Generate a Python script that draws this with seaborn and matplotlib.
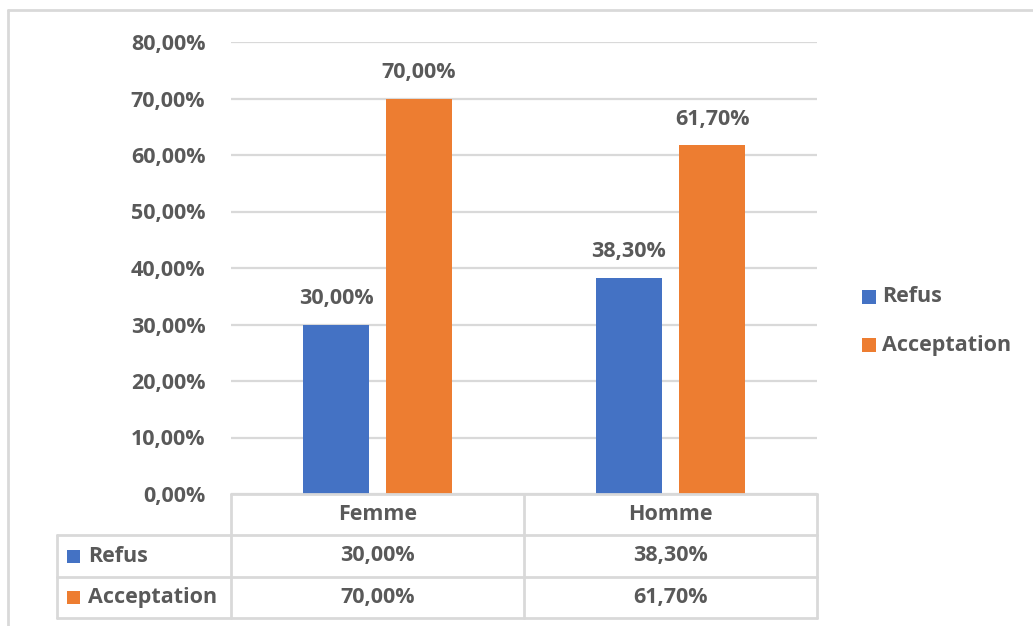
import matplotlib
matplotlib.use("Agg")
import matplotlib.pyplot as plt
from matplotlib.patches import Rectangle
from matplotlib.lines import Line2D
import pandas as pd
import seaborn as sns

# Data
categories = ["Femme", "Homme"]
series = ["Refus", "Acceptation"]
refus = [30.0, 38.3]
acceptation = [70.0, 61.7]
y_ticks = [0, 10, 20, 30, 40, 50, 60, 70, 80]

colors = {"Refus": "#4472C4", "Acceptation": "#ED7D31"}
text_col = "#595959"
grid_col = "#D9D9D9"
FS = 15.5

def pct(v):
    return f"{v:.2f}".replace(".", ",") + "%"

df = pd.DataFrame({
    "categorie": categories * 2,
    "serie": [series[0]] * len(categories) + [series[1]] * len(categories),
    "valeur": refus + acceptation,
})

sns.set_theme(style="white")
plt.rcParams["font.family"] = ["Open Sans", "DejaVu Sans"]
plt.rcParams["font.weight"] = "bold"

W, H = 1033, 626
fig = plt.figure(figsize=(W / 100, H / 100), dpi=100)

def fx(px):
    return px / W

def fy(py):
    return 1 - py / H

# plot area
x0, x1, y_top, y_bot = 231, 817, 42, 494
ax = fig.add_axes([fx(x0), fy(y_bot), fx(x1) - fx(x0), fy(y_top) - fy(y_bot)])

sns.barplot(data=df, x="categorie", y="valeur", hue="serie", order=categories,
            hue_order=series, palette=colors, width=0.567, gap=0.205,
            saturation=1, linewidth=0, legend=False, ax=ax)

ax.set_ylim(0, 80)
ax.set_xlim(-0.5, len(categories) - 0.5)
ax.set_yticks(y_ticks)
ax.set_yticklabels([pct(v) for v in y_ticks], color=text_col, fontsize=FS,
                   fontweight="bold")
ax.tick_params(axis="y", length=0, pad=18.5)
ax.set_xticks([])
ax.set_xlabel("")
ax.set_ylabel("")
for s in ax.spines.values():
    s.set_visible(False)
ax.yaxis.grid(True, color=grid_col, linewidth=1.6)
ax.set_axisbelow(True)

# value labels above bars
for container, vals in zip(ax.containers, [refus, acceptation]):
    for bar, v in zip(container, vals):
        ax.annotate(pct(v), (bar.get_x() + bar.get_width() / 2, bar.get_height()),
                    xytext=(0, 18.5), textcoords="offset points", ha="center",
                    va="center", fontsize=FS, fontweight="bold", color=text_col)

# data table below the axis
lw = 2
tl = 57
row_y = [494, 535, 577, 618]
col_x = [x0, 524, x1]

def hline(xa, xb, py):
    fig.add_artist(Line2D([fx(xa), fx(xb)], [fy(py), fy(py)], color=grid_col,
                          linewidth=lw, transform=fig.transFigure))

def vline(px, ya, yb):
    fig.add_artist(Line2D([fx(px), fx(px)], [fy(ya), fy(yb)], color=grid_col,
                          linewidth=lw, transform=fig.transFigure))

hline(x0, x1, row_y[0])
hline(tl, x1, row_y[1])
hline(tl, x1, row_y[2])
hline(tl, x1, row_y[3])
vline(tl, row_y[1], row_y[3])
for cx in col_x:
    vline(cx, row_y[0], row_y[3])

for i, cat in enumerate(categories):
    cx = (col_x[i] + col_x[i + 1]) / 2
    fig.text(fx(cx), fy((row_y[0] + row_y[1]) / 2), cat, ha="center", va="center",
             fontsize=FS, fontweight="bold", color=text_col)
    for r, vals in enumerate([refus, acceptation]):
        fig.text(fx(cx), fy((row_y[r + 1] + row_y[r + 2]) / 2), pct(vals[i]),
                 ha="center", va="center", fontsize=FS, fontweight="bold",
                 color=text_col)

sq = 13
for r, name in enumerate(series):
    cy = (row_y[r + 1] + row_y[r + 2]) / 2
    fig.add_artist(Rectangle((fx(67), fy(cy + sq / 2)), sq / W, sq / H,
                             facecolor=colors[name], edgecolor="none",
                             transform=fig.transFigure))
    fig.text(fx(88), fy(cy), name, ha="left", va="center", fontsize=FS,
             fontweight="bold", color=text_col)

# legend on the right
for name, ly in zip(series, [297, 345]):
    fig.add_artist(Rectangle((fx(862), fy(ly + 7)), 14 / W, 14 / H,
                             facecolor=colors[name], edgecolor="none",
                             transform=fig.transFigure))
    fig.text(fx(882), fy(ly), name, ha="left", va="center", fontsize=FS,
             fontweight="bold", color=text_col)

# chart frame
fig.add_artist(Line2D([fx(8), fx(1033)], [fy(10), fy(10)], color=grid_col,
                      linewidth=2, transform=fig.transFigure))
fig.add_artist(Line2D([fx(8), fx(8)], [fy(10), fy(626)], color=grid_col,
                      linewidth=2, transform=fig.transFigure))

fig.savefig("out.png", dpi=100, facecolor="white")
